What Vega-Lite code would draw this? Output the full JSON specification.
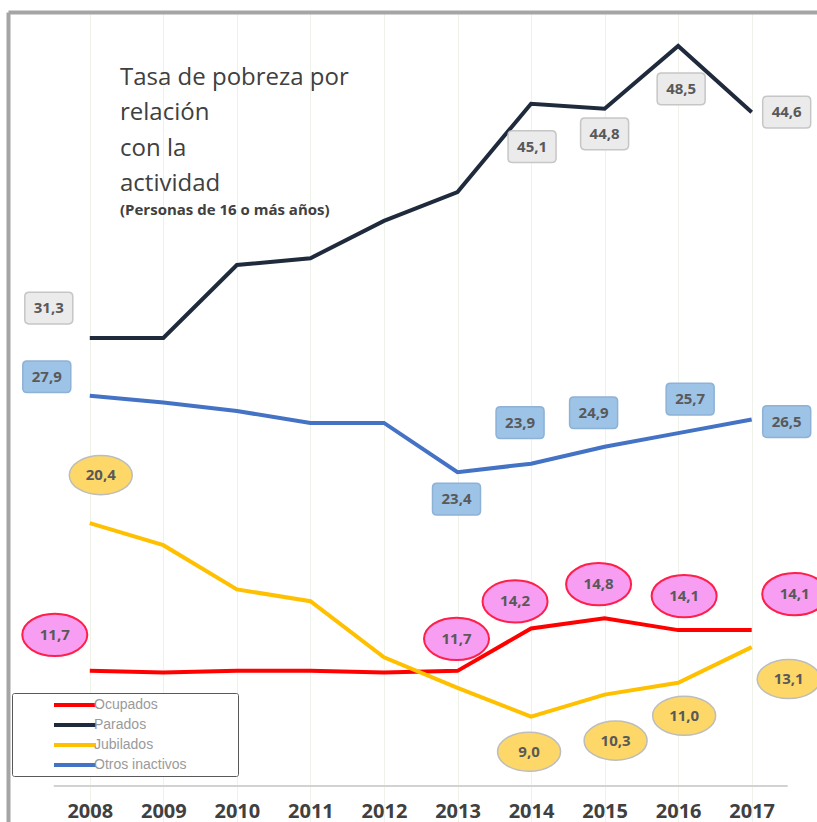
{
  "$schema": "https://vega.github.io/schema/vega-lite/v6.json",
  "width": 809,
  "height": 810,
  "autosize": "none",
  "padding": {"left": 8, "top": 12, "right": 0, "bottom": 0},
  "background": "#ffffff",
  "config": {
    "view": {"stroke": null},
    "locale": {"number": {"decimal": ",", "thousands": ".", "grouping": [3], "currency": ["", " €"]}}
  },
  "title": {
    "text": ["Tasa de pobreza por", "relación", "con la", "actividad"],
    "subtitle": "(Personas de 16 o más años)",
    "anchor": "start",
    "frame": "group",
    "orient": "top",
    "dx": 112,
    "offset": -206,
    "font": "Open Sans",
    "fontSize": 24,
    "fontWeight": "normal",
    "color": "#404040",
    "lineHeight": 35.3,
    "subtitleFont": "Open Sans",
    "subtitleFontSize": 15,
    "subtitleFontWeight": "bold",
    "subtitleColor": "#404040",
    "subtitlePadding": 7
  },
  "data": {
    "values": [
      {"series": "Ocupados", "year": "2008", "value": 11.7},
      {"series": "Ocupados", "year": "2009", "value": 11.6},
      {"series": "Ocupados", "year": "2010", "value": 11.7},
      {"series": "Ocupados", "year": "2011", "value": 11.7},
      {"series": "Ocupados", "year": "2012", "value": 11.6},
      {"series": "Ocupados", "year": "2013", "value": 11.7},
      {"series": "Ocupados", "year": "2014", "value": 14.2},
      {"series": "Ocupados", "year": "2015", "value": 14.8},
      {"series": "Ocupados", "year": "2016", "value": 14.1},
      {"series": "Ocupados", "year": "2017", "value": 14.1},
      {"series": "Parados", "year": "2008", "value": 31.3},
      {"series": "Parados", "year": "2009", "value": 31.3},
      {"series": "Parados", "year": "2010", "value": 35.6},
      {"series": "Parados", "year": "2011", "value": 36.0},
      {"series": "Parados", "year": "2012", "value": 38.2},
      {"series": "Parados", "year": "2013", "value": 39.9},
      {"series": "Parados", "year": "2014", "value": 45.1},
      {"series": "Parados", "year": "2015", "value": 44.8},
      {"series": "Parados", "year": "2016", "value": 48.5},
      {"series": "Parados", "year": "2017", "value": 44.6},
      {"series": "Jubilados", "year": "2008", "value": 20.4},
      {"series": "Jubilados", "year": "2009", "value": 19.1},
      {"series": "Jubilados", "year": "2010", "value": 16.5},
      {"series": "Jubilados", "year": "2011", "value": 15.8},
      {"series": "Jubilados", "year": "2012", "value": 12.5},
      {"series": "Jubilados", "year": "2013", "value": 10.7},
      {"series": "Jubilados", "year": "2014", "value": 9.0},
      {"series": "Jubilados", "year": "2015", "value": 10.3},
      {"series": "Jubilados", "year": "2016", "value": 11.0},
      {"series": "Jubilados", "year": "2017", "value": 13.1},
      {"series": "Otros inactivos", "year": "2008", "value": 27.9},
      {"series": "Otros inactivos", "year": "2009", "value": 27.5},
      {"series": "Otros inactivos", "year": "2010", "value": 27.0},
      {"series": "Otros inactivos", "year": "2011", "value": 26.3},
      {"series": "Otros inactivos", "year": "2012", "value": 26.3},
      {"series": "Otros inactivos", "year": "2013", "value": 23.4},
      {"series": "Otros inactivos", "year": "2014", "value": 23.9},
      {"series": "Otros inactivos", "year": "2015", "value": 24.9},
      {"series": "Otros inactivos", "year": "2016", "value": 25.7},
      {"series": "Otros inactivos", "year": "2017", "value": 26.5}
    ]
  },
  "encoding": {
    "x": {
      "field": "year",
      "type": "ordinal",
      "scale": {"type": "point", "padding": 1.0335, "align": 0.556},
      "axis": {
        "orient": "bottom",
        "offset": -36,
        "title": null,
        "domain": false,
        "ticks": false,
        "grid": true,
        "gridColor": "#eef2e8",
        "gridWidth": 1,
        "labelAngle": 0,
        "labelFont": "Open Sans",
        "labelFontWeight": "bold",
        "labelFontSize": 20,
        "labelColor": "#404040",
        "labelPadding": 15
      }
    },
    "y": {
      "field": "value",
      "type": "quantitative",
      "scale": {"domain": [2.8, 50.5], "nice": false, "zero": false},
      "axis": {
        "orient": "left",
        "title": null,
        "domain": true,
        "domainColor": "#a5a5a5",
        "domainWidth": 4,
        "ticks": false,
        "labels": false,
        "grid": true,
        "values": [50.5],
        "gridColor": "#a5a5a5",
        "gridWidth": 4
      }
    }
  },
  "layer": [
    {
      "transform": [{"filter": {"and": [{"field": "series", "equal": "Ocupados"}, {"field": "year", "oneOf": ["2008", "2017"]}]}}],
      "mark": {"type": "line", "color": "#d2d2d2", "strokeWidth": 2, "strokeCap": "butt"},
      "encoding": {
        "x": {"field": "year", "type": "ordinal"},
        "y": {"datum": 4.92, "type": "quantitative"}
      }
    },
    {
      "transform": [{"filter": {"and": [{"field": "series", "equal": "Ocupados"}, {"field": "year", "equal": "2008"}]}}],
      "mark": {"type": "rule", "color": "#d2d2d2", "strokeWidth": 2, "xOffset": -36, "x2Offset": 36},
      "encoding": {
        "x": {"datum": "2008", "type": "ordinal"},
        "x2": {"datum": "2017"},
        "y": {"datum": 4.92, "type": "quantitative"}
      }
    },
    {
      "mark": {"type": "line", "strokeWidth": 4},
      "encoding": {
        "color": {
          "field": "series",
          "type": "nominal",
          "scale": {
            "domain": ["Ocupados", "Parados", "Jubilados", "Otros inactivos"],
            "range": ["#ff0000", "#1f2b3c", "#ffc000", "#4472c4"]
          },
          "legend": {
            "orient": "none",
            "legendX": 4,
            "legendY": 681,
            "title": "\u00a0",
            "titleOrient": "right",
            "titlePadding": 48,
            "titleFontSize": 10,
            "direction": "vertical",
            "padding": 3,
            "rowPadding": 3,
            "strokeColor": "#595959",
            "fillColor": "#ffffff",
            "cornerRadius": 2,
            "symbolType": "M-3,0L3,0",
            "symbolSize": 196,
            "symbolStrokeWidth": 4,
            "symbolOffset": 51,
            "labelOffset": 10,
            "labelFont": "Liberation Sans",
            "labelFontSize": 14,
            "labelColor": "#9a9a9a"
          }
        }
      }
    },
    {
      "transform": [{"filter": {"and": [{"field": "series", "equal": "Parados"}, {"field": "year", "oneOf": ["2008", "2014", "2015", "2016", "2017"]}]}}],
      "layer": [
        {
          "mark": {
            "type": "point",
            "shape": "M-0.82,-0.66L0.82,-0.66Q1,-0.66 1,-0.48L1,0.48Q1,0.66 0.82,0.66L-0.82,0.66Q-1,0.66 -1,0.48L-1,-0.48Q-1,-0.66 -0.82,-0.66Z",
            "size": 2304,
            "filled": true,
            "opacity": 1,
            "fill": "#ebebeb",
            "stroke": "#c6c6c6",
            "strokeWidth": 1.5,
            "xOffset": {"expr": "datum.year=='2008'?-41:datum.year=='2017'?35:datum.year=='2016'?3:datum.year=='2014'?1:0"},
            "yOffset": {"expr": "datum.year=='2008'?-30:datum.year=='2017'?0:datum.year=='2015'?25:43"}
          }
        },
        {
          "mark": {
            "type": "text",
            "font": "Open Sans",
            "fontWeight": "bold",
            "fontSize": 15,
            "fill": "#595959",
            "xOffset": {"expr": "datum.year=='2008'?-41:datum.year=='2017'?35:datum.year=='2016'?3:datum.year=='2014'?1:0"},
            "yOffset": {"expr": "datum.year=='2008'?-30:datum.year=='2017'?0:datum.year=='2015'?25:43"}
          },
          "encoding": {"text": {"field": "value", "type": "quantitative", "format": ".1f"}}
        }
      ]
    },
    {
      "transform": [{"filter": {"and": [{"field": "series", "equal": "Otros inactivos"}, {"field": "year", "oneOf": ["2008", "2013", "2014", "2015", "2016", "2017"]}]}}],
      "layer": [
        {
          "mark": {
            "type": "point",
            "shape": "M-0.82,-0.66L0.82,-0.66Q1,-0.66 1,-0.48L1,0.48Q1,0.66 0.82,0.66L-0.82,0.66Q-1,0.66 -1,0.48L-1,-0.48Q-1,-0.66 -0.82,-0.66Z",
            "size": 2304,
            "filled": true,
            "opacity": 1,
            "fill": "#9dc3e6",
            "stroke": "#8eb1d6",
            "strokeWidth": 1.5,
            "xOffset": {"expr": "datum.year=='2008'?-43:datum.year=='2017'?35:datum.year=='2016'?12:datum.year=='2013'?-1:-11"},
            "yOffset": {"expr": "datum.year=='2008'?-19:datum.year=='2017'?2:datum.year=='2013'?27:datum.year=='2014'?-41:-34"}
          }
        },
        {
          "mark": {
            "type": "text",
            "font": "Open Sans",
            "fontWeight": "bold",
            "fontSize": 15,
            "fill": "#595959",
            "xOffset": {"expr": "datum.year=='2008'?-43:datum.year=='2017'?35:datum.year=='2016'?12:datum.year=='2013'?-1:-11"},
            "yOffset": {"expr": "datum.year=='2008'?-19:datum.year=='2017'?2:datum.year=='2013'?27:datum.year=='2014'?-41:-34"}
          },
          "encoding": {"text": {"field": "value", "type": "quantitative", "format": ".1f"}}
        }
      ]
    },
    {
      "transform": [{"filter": {"and": [{"field": "series", "equal": "Jubilados"}, {"field": "year", "oneOf": ["2008", "2014", "2015", "2016", "2017"]}]}}],
      "layer": [
        {
          "mark": {
            "type": "point",
            "shape": "M-1,0C-1,-0.3424 -0.5523,-0.62 0,-0.62C0.5523,-0.62 1,-0.3424 1,0C1,0.3424 0.5523,0.62 0,0.62C-0.5523,0.62 -1,0.3424 -1,0Z",
            "size": 3969,
            "filled": true,
            "opacity": 1,
            "fill": "#fdd868",
            "stroke": "#bdbdbd",
            "strokeWidth": 1.5,
            "xOffset": {"expr": "datum.year=='2008'?11:datum.year=='2017'?37:datum.year=='2015'?11:datum.year=='2016'?6:-2"},
            "yOffset": {"expr": "datum.year=='2008'?-48:datum.year=='2017'?32:datum.year=='2015'?46:datum.year=='2016'?33:35"}
          }
        },
        {
          "mark": {
            "type": "text",
            "font": "Open Sans",
            "fontWeight": "bold",
            "fontSize": 15,
            "fill": "#595959",
            "xOffset": {"expr": "datum.year=='2008'?11:datum.year=='2017'?37:datum.year=='2015'?11:datum.year=='2016'?6:-2"},
            "yOffset": {"expr": "datum.year=='2008'?-48:datum.year=='2017'?32:datum.year=='2015'?46:datum.year=='2016'?33:35"}
          },
          "encoding": {"text": {"field": "value", "type": "quantitative", "format": ".1f"}}
        }
      ]
    },
    {
      "transform": [{"filter": {"and": [{"field": "series", "equal": "Ocupados"}, {"field": "year", "oneOf": ["2008", "2013", "2014", "2015", "2016", "2017"]}]}}],
      "layer": [
        {
          "mark": {
            "type": "point",
            "shape": "M-1,0C-1,-0.359 -0.5523,-0.65 0,-0.65C0.5523,-0.65 1,-0.359 1,0C1,0.359 0.5523,0.65 0,0.65C-0.5523,0.65 -1,0.359 -1,0Z",
            "size": 4225,
            "filled": true,
            "opacity": 1,
            "fill": "#f79ef2",
            "stroke": "#ff1f4b",
            "strokeWidth": 2,
            "xOffset": {"expr": "datum.year=='2008'?-35:datum.year=='2017'?43:datum.year=='2014'?-16:datum.year=='2015'?-6:datum.year=='2016'?6:-1"},
            "yOffset": {"expr": "datum.year=='2008'?-36:datum.year=='2017'?-36:datum.year=='2014'?-27:datum.year=='2013'?-32:-34"}
          }
        },
        {
          "mark": {
            "type": "text",
            "font": "Open Sans",
            "fontWeight": "bold",
            "fontSize": 15,
            "fill": "#595959",
            "xOffset": {"expr": "datum.year=='2008'?-35:datum.year=='2017'?43:datum.year=='2014'?-16:datum.year=='2015'?-6:datum.year=='2016'?6:-1"},
            "yOffset": {"expr": "datum.year=='2008'?-36:datum.year=='2017'?-36:datum.year=='2014'?-27:datum.year=='2013'?-32:-34"}
          },
          "encoding": {"text": {"field": "value", "type": "quantitative", "format": ".1f"}}
        }
      ]
    }
  ]
}
